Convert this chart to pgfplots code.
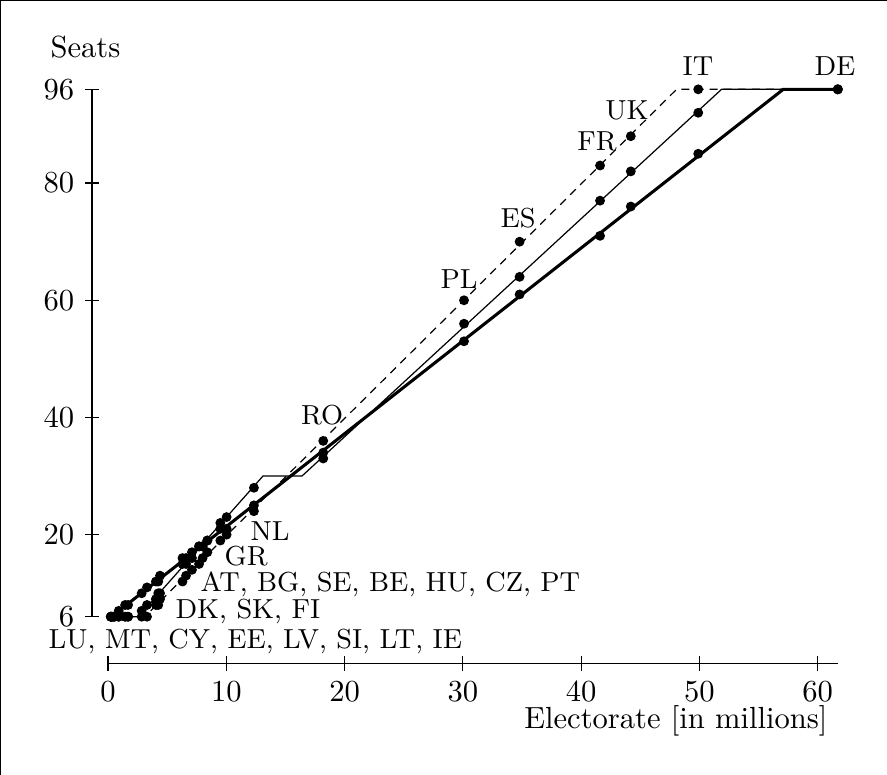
\documentclass[border=0pt]{standalone}
\usepackage{pgfplots}
\pgfplotsset{compat=1.18}
\def\px{0.327pt}

% seats per country: x = electorate in millions
\pgfplotstableread{
x    dashed thin thick
0.24  6  6  6
0.33  6  6  6
0.52  6  6  6
0.91  6  6  7
1.45  6  6  8
1.70  6  6  8
2.85  6  7 10
3.30  6  8 11
4.05  8  9 12
4.25  8 10 12
4.40  9 10 13
6.30 12 15 16
6.60 13 15 16
7.10 14 16 17
7.70 15 18 18
8.00 16 18 18
8.40 17 19 19
9.50 19 22 21
10.03 20 23 21
12.34 24 28 25
18.20 36 34 33
30.10 60 56 53
34.80 70 64 61
41.60 83 77 71
44.20 88 82 76
49.90 96 92 85
61.70 96 96 96
}\seats

\begin{document}
\begin{tikzpicture}
\path[use as bounding box] (0,0) rectangle ({887*\px},{-775*\px});
\draw[line width=0.4pt] (0,0) -- ({887*\px},0);
\draw[line width=0.4pt] (0,0) -- (0,{-775*\px});

\begin{axis}[
    at={({92*\px},{-616.7*\px})}, anchor=south west,
    scale only axis,
    x=3.868pt, y=1.916pt,
    xmin=-1.35, xmax=62, ymin=6, ymax=96,
    axis x line=none,
    axis y line=left,
    y axis line style={-},
    ytick={6,20,40,60,80,96},
    tick align=center,
    major tick length=4.6pt,
    tick style={black, line width=0.4pt},
    clip=false,
]
\addplot[black, line width=0.4pt, dash pattern=on 2.6pt off 2pt] coordinates {(0.24,6) (3.1,6) (48.07,96) (61.7,96)};
\addplot[black, line width=0.4pt] coordinates {(0.24,6) (2.57,6) (13.1,30) (16.4,30) (51.87,96) (61.7,96)};
\addplot[black, line width=1pt] coordinates {(0.24,6) (0.3,6) (57.09,96) (61.7,96)};
\addplot[only marks, mark=*, mark size=1.4pt, black] table[x=x, y=dashed] {\seats};
\addplot[only marks, mark=*, mark size=1.4pt, black] table[x=x, y=thin] {\seats};
\addplot[only marks, mark=*, mark size=1.4pt, black] table[x=x, y=thick] {\seats};
\end{axis}

\begin{axis}[
    at={({108*\px},{-663.3*\px})}, anchor=south west,
    scale only axis,
    x=3.868pt, height=1pt,
    xmin=0, xmax=61.7, ymin=0, ymax=1,
    axis x line=bottom,
    axis y line=none,
    x axis line style={-},
    xtick={0,10,20,30,40,50,60},
    ytick=\empty,
    tick align=center,
    major tick length=5pt,
    tick style={black, line width=0.4pt},
]
\end{axis}

\node[anchor=base west, inner sep=0pt] at ({50*\px},{-58*\px}) {Seats};
\node[anchor=base east, inner sep=0pt] at ({828*\px},{-729*\px}) {Electorate [in millions]};

\begin{scope}[every node/.style={font=\small}]
\node[anchor=base] at ({698*\px},{-76*\px}) {IT};
\node[anchor=base] at ({835*\px},{-76*\px}) {DE};
\node[anchor=base] at ({627*\px},{-120*\px}) {UK};
\node[anchor=base] at ({597*\px},{-151*\px}) {FR};
\node[anchor=base] at ({518*\px},{-228*\px}) {ES};
\node[anchor=base] at ({459*\px},{-289*\px}) {PL};
\node[anchor=base] at ({322*\px},{-425*\px}) {RO};
\node[anchor=base west, inner sep=0pt] at ({250*\px},{-541*\px}) {NL};
\node[anchor=base west, inner sep=0pt] at ({224*\px},{-566*\px}) {GR};
\node[anchor=base west, inner sep=0pt] at ({200*\px},{-592*\px}) {AT, BG, SE, BE, HU, CZ, PT};
\node[anchor=base west, inner sep=0pt] at ({175*\px},{-619*\px}) {DK, SK, FI};
\node[anchor=base west, inner sep=0pt] at ({48*\px},{-649*\px}) {LU, MT, CY, EE, LV, SI, LT, IE};
\end{scope}
\end{tikzpicture}
\end{document}
